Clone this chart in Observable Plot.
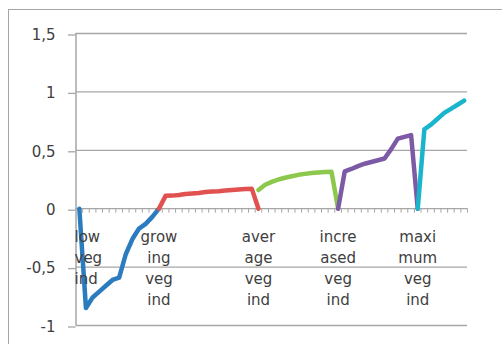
<!DOCTYPE html>
<html><head><meta charset="utf-8">
<script src="https://cdn.jsdelivr.net/npm/d3@7"></script>
<script src="https://cdn.jsdelivr.net/npm/@observablehq/plot@0.6"></script>
<style>
html,body{margin:0;padding:0;background:#fff;}
#wrap{position:relative;width:502px;height:344px;overflow:hidden;background:#fff;}
#border{position:absolute;left:8px;top:9px;width:600px;height:500px;border:1px solid #a6a6a6;box-sizing:border-box;}
#wrap svg{position:absolute;left:0;top:0;}
</style></head><body><div id="wrap"><div id="border"></div></div>
<script>
// Category axis: 59 categories, only five carry a label
const categoryCount = 59;
const labelIndex = [0, 12, 27, 39, 51];
const labelText = ["low\nveg\nind", "grow\ning\nveg\nind", "aver\nage\nveg\nind", "incre\nased\nveg\nind", "maxi\nmum\nveg\nind"];

// Series (each starts at its own category index)
const seriesNames = ["low veg ind", "growing veg ind", "average veg ind", "increased veg ind", "maximum veg ind"];
const seriesColors = ["#2b7bbf", "#e0514f", "#8cc84b", "#7d5aa6", "#1ab5cc"];
const seriesStart = [0, 12, 27, 39, 51];
const lowValues = [0, -0.85, -0.76, -0.71, -0.66, -0.61, -0.59, -0.39, -0.26, -0.17, -0.13, -0.07, 0];
const growingValues = [0, 0.11, 0.112, 0.117, 0.125, 0.13, 0.135, 0.143, 0.148, 0.15, 0.155, 0.16, 0.165, 0.168, 0.17, 0];
const averageValues = [0.16, 0.205, 0.23, 0.25, 0.265, 0.278, 0.29, 0.298, 0.305, 0.31, 0.314, 0.317, 0];
const increasedValues = [0, 0.32, 0.34, 0.365, 0.385, 0.40, 0.415, 0.43, 0.51, 0.60, 0.615, 0.63, 0];
const maximumValues = [0, 0.68, 0.72, 0.77, 0.82, 0.855, 0.89, 0.925];

// Y axis ticks
const yTicks = [-1, -0.5, 0, 0.5, 1, 1.5];

const allValues = [lowValues, growingValues, averageValues, increasedValues, maximumValues];
const rows = allValues.flatMap((vals, s) => vals.map((v, k) => ({i: seriesStart[s] + k, v, series: seriesNames[s]})));
const boundaries = d3.range(categoryCount - 1).map(k => k + 0.5).concat([categoryCount - 0.5]);
const labels = labelIndex.map((i, k) => ({i, label: labelText[k]}));

const grey = "#a6a6a6";
const textColor = "#404040";

const chart = Plot.plot({
  width: 502, height: 344,
  marginLeft: 75.5, marginRight: 35, marginTop: 33, marginBottom: 19,
  style: {fontFamily: "DejaVu Sans", fontSize: "15px", background: "transparent", color: textColor},
  x: {domain: [-0.5, categoryCount - 0.5], axis: null},
  y: {domain: [-1, 1.5], axis: null},
  color: {domain: seriesNames, range: seriesColors},
  marks: [
    Plot.gridY(yTicks, {stroke: grey, strokeOpacity: 1, strokeWidth: 1.3}),
    Plot.axisY(yTicks, {tickSize: 7.5, tickPadding: 13, stroke: grey, strokeWidth: 1.3, fill: textColor,
      label: null, tickFormat: d => String(d).replace(".", ","), dy: 1.5}),
    Plot.ruleX([-0.5], {y1: -1, y2: 1.5, stroke: grey, strokeWidth: 1.5}),
    Plot.ruleX(boundaries, {x: d => d, y1: 0, y2: 0, insetBottom: -4.5, stroke: grey, strokeWidth: 1}),
    Plot.line(rows, {x: "i", y: "v", z: "series", stroke: "series", strokeWidth: 4.5,
      strokeLinejoin: "round", strokeLinecap: "round"}),
    Plot.text(labels.slice(0, 1), {x: "i", y: 0, text: "label", textAnchor: "start", dx: -4.8,
      lineAnchor: "top", dy: 18.3, lineHeight: 1.4, fill: textColor}),
    Plot.text(labels.slice(1), {x: "i", y: 0, text: "label", textAnchor: "middle",
      lineAnchor: "top", dy: 18.3, lineHeight: 1.4, fill: textColor})
  ]
});
document.getElementById("wrap").appendChild(chart);
</script>
</body></html>
